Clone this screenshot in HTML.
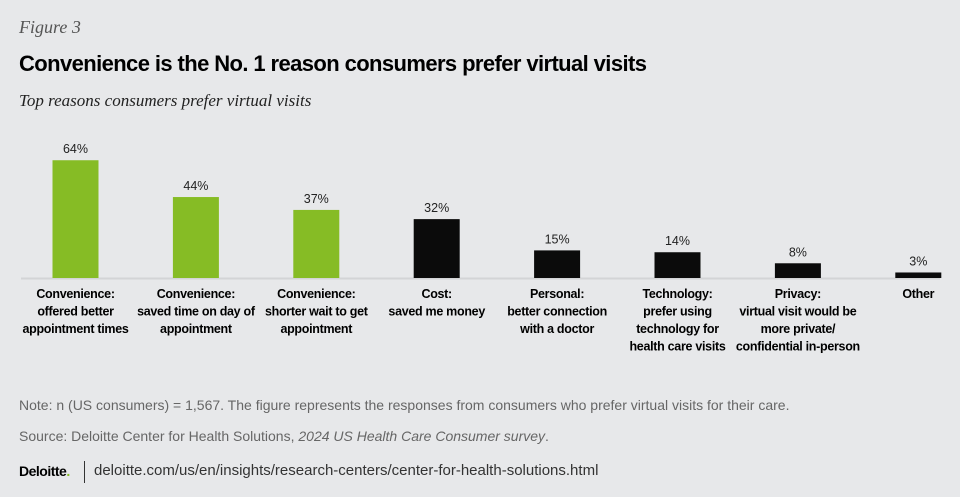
<!DOCTYPE html>
<html><head><meta charset="utf-8"><style>
body{margin:0;width:960px;height:497px;background:#e7e8ea;overflow:hidden;font-family:"Liberation Sans",sans-serif;position:relative}
.abs{position:absolute;margin:0}
</style></head><body>
<div class="abs" style="left:19px;top:17px;font-family:'Liberation Serif',serif;font-style:italic;font-size:18px;color:#555">Figure 3</div>
<div class="abs" style="left:19px;top:51px;font-weight:bold;font-size:22px;color:#000;letter-spacing:-0.6px">Convenience is the No. 1 reason consumers prefer virtual visits</div>
<div class="abs" style="left:19px;top:91px;font-family:'Liberation Serif',serif;font-style:italic;font-size:17px;color:#222">Top reasons consumers prefer virtual visits</div>
<svg class="abs" style="left:0;top:0" width="960" height="380" id="chart"></svg>
<div class="abs" style="left:19px;top:397px;font-size:14px;color:#666">Note: n (US consumers) = 1,567. The figure represents the responses from consumers who prefer virtual visits for their care.</div>
<div class="abs" style="left:19px;top:428px;font-size:14px;color:#666">Source: Deloitte Center for Health Solutions, <i>2024 US Health Care Consumer survey</i>.</div>
<div class="abs" style="left:19px;top:463px;font-size:14px;font-weight:bold;color:#000;letter-spacing:-0.5px">Deloitte<span style="color:#86bc25">.</span></div>
<div class="abs" style="left:84px;top:461px;width:1px;height:22px;background:#333"></div>
<div class="abs" style="left:94px;top:462px;font-size:15px;color:#333">deloitte.com/us/en/insights/research-centers/center-for-health-solutions.html</div>
<script>
const categories=[["Convenience:","offered better","appointment times"],["Convenience:","saved time on day of","appointment"],["Convenience:","shorter wait to get","appointment"],["Cost:","saved me money"],["Personal:","better connection","with a doctor"],["Technology:","prefer using","technology for","health care visits"],["Privacy:","virtual visit would be","more private/","confidential in-person"],["Other"]];
const values=[64,44,37,32,15,14,8,3];
const groups=["convenience","convenience","convenience","other","other","other","other","other"];
const svg=document.getElementById('chart');
const NS='http://www.w3.org/2000/svg';
const base=278, scale=1.84, x0=75.5, step=120.4, bw=46;
const xPos=i=>x0+i*step, yPos=v=>base-v*scale;
const axis=document.createElementNS(NS,'line');
axis.setAttribute('x1',21);axis.setAttribute('x2',940);axis.setAttribute('y1',base+0.5);axis.setAttribute('y2',base+0.5);
axis.setAttribute('stroke','#d3d4d6');axis.setAttribute('stroke-width',2);


svg.appendChild(axis);
values.forEach((v,i)=>{
 const r=document.createElementNS(NS,'rect');
 r.setAttribute('x',xPos(i)-bw/2);r.setAttribute('y',yPos(v));r.setAttribute('width',bw);r.setAttribute('height',v*scale);
 r.setAttribute('fill',groups[i]==='convenience'?'#86bc25':'#0b0b0b');
 
 
 svg.appendChild(r);
 const t=document.createElementNS(NS,'text');
 t.setAttribute('x',xPos(i));t.setAttribute('y',yPos(v)-7);t.setAttribute('text-anchor','middle');
 t.setAttribute('font-size','12.5');t.setAttribute('fill','#222');t.setAttribute('font-family','Liberation Sans, sans-serif');
 t.textContent=v+'%';
 
 
 svg.appendChild(t);
 const c=document.createElementNS(NS,'text');
 c.setAttribute('text-anchor','middle');c.setAttribute('font-size','12.5');c.setAttribute('font-weight','bold');
 c.setAttribute('fill','#000');c.setAttribute('font-family','Liberation Sans, sans-serif');c.setAttribute('letter-spacing','-0.3');
 
 
 categories[i].forEach((ln,j)=>{const s=document.createElementNS(NS,'tspan');s.setAttribute('x',xPos(i));s.setAttribute('y',base+20+j*17.5);s.textContent=ln;c.appendChild(s);});
 svg.appendChild(c);
});
</script>
</body></html>
